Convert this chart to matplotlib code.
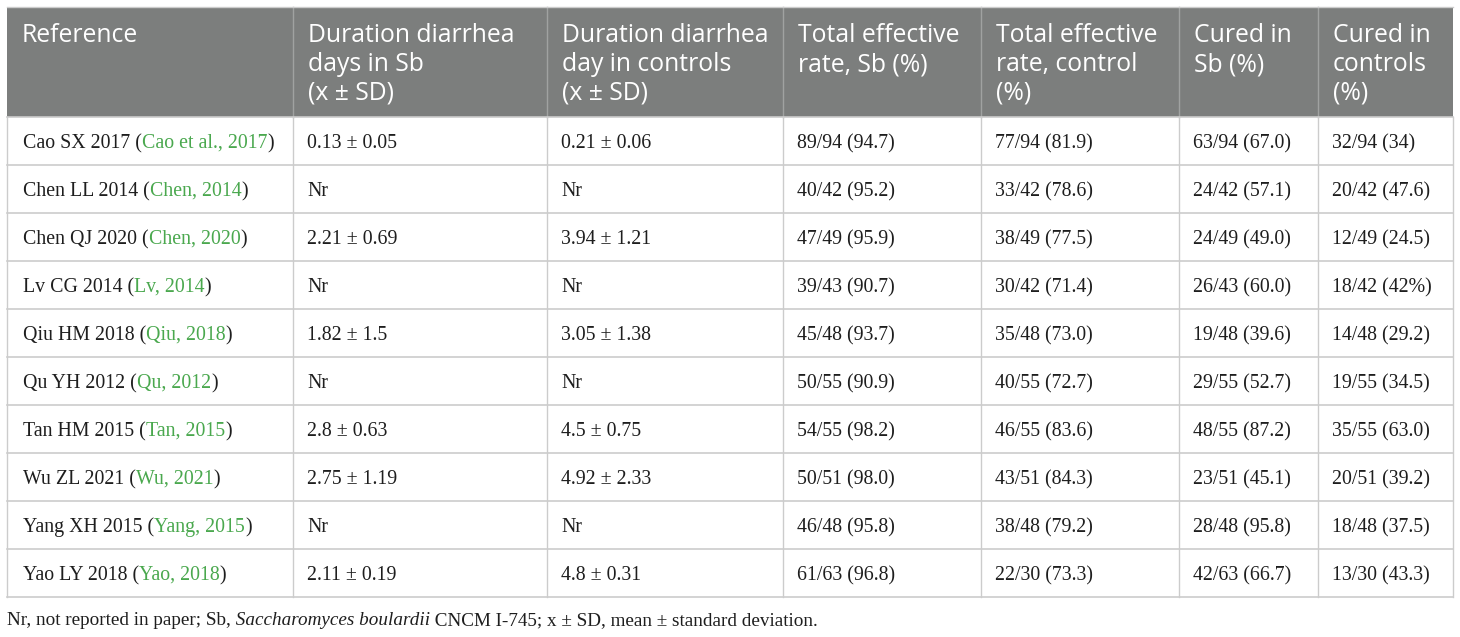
import matplotlib
matplotlib.use('Agg')
import matplotlib.pyplot as plt
from matplotlib.patches import Rectangle

# ---------------- data ----------------
headers = [
    ["Reference"],
    ["Duration diarrhea", "days in Sb", "(x \u00b1 SD)"],
    ["Duration diarrhea", "day in controls", "(x \u00b1 SD)"],
    ["Total effective", "rate, Sb (%)"],
    ["Total effective", "rate, control", "(%)"],
    ["Cured in", "Sb (%)"],
    ["Cured in", "controls", "(%)"],
]
studies = ["Cao SX 2017", "Chen LL 2014", "Chen QJ 2020", "Lv CG 2014", "Qiu HM 2018",
           "Qu YH 2012", "Tan HM 2015", "Wu ZL 2021", "Yang XH 2015", "Yao LY 2018"]
citations = ["Cao et al., 2017", "Chen, 2014", "Chen, 2020", "Lv, 2014", "Qiu, 2018",
             "Qu, 2012", "Tan, 2015", "Wu, 2021", "Yang, 2015", "Yao, 2018"]
duration_sb = ["0.13 \u00b1 0.05", "Nr", "2.21 \u00b1 0.69", "Nr", "1.82 \u00b1 1.5",
               "Nr", "2.8 \u00b1 0.63", "2.75 \u00b1 1.19", "Nr", "2.11 \u00b1 0.19"]
duration_ctrl = ["0.21 \u00b1 0.06", "Nr", "3.94 \u00b1 1.21", "Nr", "3.05 \u00b1 1.38",
                 "Nr", "4.5 \u00b1 0.75", "4.92 \u00b1 2.33", "Nr", "4.8 \u00b1 0.31"]
effective_sb = ["89/94 (94.7)", "40/42 (95.2)", "47/49 (95.9)", "39/43 (90.7)", "45/48 (93.7)",
                "50/55 (90.9)", "54/55 (98.2)", "50/51 (98.0)", "46/48 (95.8)", "61/63 (96.8)"]
effective_ctrl = ["77/94 (81.9)", "33/42 (78.6)", "38/49 (77.5)", "30/42 (71.4)", "35/48 (73.0)",
                  "40/55 (72.7)", "46/55 (83.6)", "43/51 (84.3)", "38/48 (79.2)", "22/30 (73.3)"]
cured_sb = ["63/94 (67.0)", "24/42 (57.1)", "24/49 (49.0)", "26/43 (60.0)", "19/48 (39.6)",
            "29/55 (52.7)", "48/55 (87.2)", "23/51 (45.1)", "28/48 (95.8)", "42/63 (66.7)"]
cured_ctrl = ["32/94 (34)", "20/42 (47.6)", "12/49 (24.5)", "18/42 (42%)", "14/48 (29.2)",
              "19/55 (34.5)", "35/55 (63.0)", "20/51 (39.2)", "18/48 (37.5)", "13/30 (43.3)"]
footnote = [("Nr, not reported in paper; Sb,", "normal"),
            (" Saccharomyces boulardii", "italic"),
            (" CNCM I-745; x \u00b1 SD, mean \u00b1 standard deviation.", "normal")]

# ---------------- style ----------------
W, H = 1460, 637
col_edges = [7, 293, 547, 783, 981, 1179, 1318, 1453]
table_top = 7
header_bottom = 117
row_h = 48
pad_x = 16
head_pad = 15
header_color = "#7c7e7d"
header_line = "#a0a2a1"
grid_color = "#cccccc"
text_color = "#1e1e1e"
green = "#4aa84e"
serif = "Liberation Serif"
sans = "Open Sans"
body_size = 14.3
head_size = 17.8
foot_size = 13.8

fig = plt.figure(figsize=(W / 100, H / 100), dpi=100)
ax = fig.add_axes([0, 0, 1, 1])
ax.set_xlim(0, W)
ax.set_ylim(H, 0)
ax.axis('off')
renderer = fig.canvas.get_renderer()

n_rows = len(studies)
table_bottom = header_bottom + n_rows * row_h

# header background
ax.add_patch(Rectangle((col_edges[0], table_top), col_edges[-1] - col_edges[0],
                       header_bottom - table_top, facecolor=header_color, edgecolor='none', zorder=1))
# vertical lines
for i, x in enumerate(col_edges):
    if 0 < i < len(col_edges) - 1:
        ax.plot([x, x], [table_top, header_bottom], color=header_line, lw=1, zorder=2)
    ax.plot([x, x], [header_bottom, table_bottom], color=grid_color, lw=1, zorder=2)
# horizontal lines
for r in range(n_rows + 1):
    y = header_bottom + r * row_h
    ax.plot([col_edges[0], col_edges[-1]], [y, y], color=grid_color, lw=1.2, zorder=2)
ax.plot([col_edges[0], col_edges[-1]], [table_top, table_top], color=grid_color, lw=1, zorder=2)


def width_of(txt, **kw):
    t1 = ax.text(0, 0, "|" + txt + "|", **kw)
    t2 = ax.text(0, 0, "||", **kw)
    w = t1.get_window_extent(renderer).width - t2.get_window_extent(renderer).width
    t1.remove()
    t2.remove()
    return w


def draw_pieces(x, y, pieces, size, family):
    for txt, color, style in pieces:
        kw = dict(fontsize=size, family=family, style=style)
        ax.text(x, y, txt, color=color, ha='left', va='baseline', zorder=3, **kw)
        x += width_of(txt, **kw)


# header text
head_baselines = [42, 71, 100]
for c, lines in enumerate(headers):
    for j, line in enumerate(lines):
        ax.text(col_edges[c] + head_pad, head_baselines[j], line, color='white', fontsize=head_size,
                family=sans, ha='left', va='baseline', zorder=3)

# body
columns = [duration_sb, duration_ctrl, effective_sb, effective_ctrl, cured_sb, cured_ctrl]
for r in range(n_rows):
    yb = header_bottom + r * row_h + 31
    draw_pieces(col_edges[0] + pad_x, yb,
                [(studies[r] + " (", text_color, 'normal'),
                 (citations[r], green, 'normal'),
                 (")", text_color, 'normal')], body_size, serif)
    for c, col in enumerate(columns):
        ax.text(col_edges[c + 1] + pad_x - 2, yb, col[r], color=text_color, fontsize=body_size,
                family=serif, ha='left', va='baseline', zorder=3)

# footnote
draw_pieces(col_edges[0], 625, [(t, text_color, s) for t, s in footnote], foot_size, serif)

fig.savefig("out.png", dpi=100, facecolor='white')
